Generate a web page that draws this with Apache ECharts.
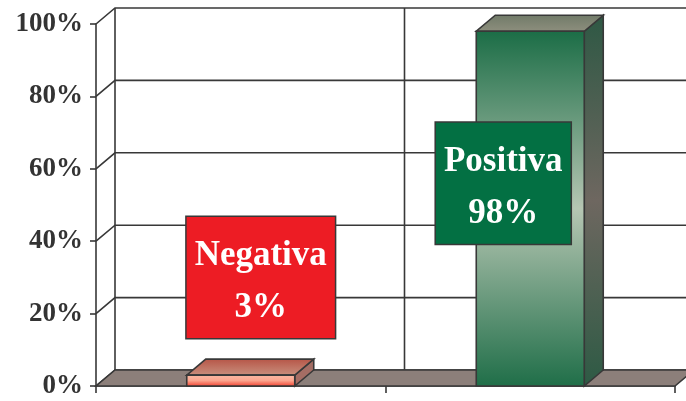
<!DOCTYPE html>
<html>
<head>
<meta charset="utf-8">
<script src="https://cdn.jsdelivr.net/npm/echarts@6/dist/echarts.min.js"></script>
<style>
  html, body { margin: 0; padding: 0; background: #ffffff; }
  #chart { width: 686px; height: 401px; }
</style>
</head>
<body>
<div id="chart"></div>
<script>
// ---- data ----
const categories = ['Negativa', 'Positiva'];
const values = [3, 98];
const yTicks = [0, 20, 40, 60, 80, 100];
const labelTexts = ['Negativa\n3%', 'Positiva\n98%'];

// ---- styling / layout config ----
const DEPTH = { dx: 19, dy: -16 };
const LINE = '#383838';
const FONT = '"Liberation Serif", "Times New Roman", serif';
const BAR_RATIO = 0.373;
const TEXT_SHIFT = 5;
const barStyles = [
  {
    front: ['#f8bca6', '#fca58e', '#f03a2a'],
    top: ['#b65446', '#c9917f'],
    side: ['#a46d64', '#a46d64', '#a46d64']
  },
  {
    front: ['#1b6d46', '#b6c6b3', '#1f6e48'],
    top: ['#707a68', '#8e8f7e'],
    side: ['#2e5844', '#6e6760', '#2d5a44']
  }
];
const labelBoxes = [
  { offsetX: 20, atValue: 30, fill: '#ed1c24' },
  { offsetX: -27, atValue: 56, fill: '#037043' }
];

function vgrad(stops) {
  const n = stops.length;
  return new echarts.graphic.LinearGradient(0, 0, 0, 1,
    stops.map((c, k) => ({ offset: n === 1 ? 0 : k / (n - 1), color: c })));
}

const chart = echarts.init(document.getElementById('chart'), null, { renderer: 'canvas' });

function renderWalls(params, api) {
  const cs = params.coordSys;
  const x0 = cs.x, x1 = cs.x + cs.width;
  const { dx, dy } = DEPTH;
  const children = [];
  const yb = api.coord([0, 0])[1];
  const yt = api.coord([0, 100])[1];
  yTicks.forEach(t => {
    const y = api.coord([0, t])[1];
    children.push({ type: 'polyline', shape: { points: [[x0, y], [x0 + dx, y + dy], [x1 + dx + 30, y + dy]] },
      style: { stroke: LINE, lineWidth: 1.6, fill: null } });
  });
  const bw = api.size([1, 0])[0];
  const xs = [x0];
  for (let i = 0; i < categories.length; i++) xs.push(api.coord([i, 0])[0] + bw / 2);
  xs.forEach(x => {
    children.push({ type: 'line', shape: { x1: x + dx, y1: yb + dy, x2: x + dx, y2: yt + dy },
      style: { stroke: LINE, lineWidth: 1.6 } });
  });
  children.push({ type: 'polygon', shape: { points: [[x0, yb], [x1, yb], [x1 + dx, yb + dy], [x0 + dx, yb + dy]] },
    style: { fill: '#8c7f7a', stroke: LINE, lineWidth: 1.6 } });
  return { type: 'group', children };
}

function renderBars(params, api) {
  const i = api.value(0), v = api.value(1);
  const { dx, dy } = DEPTH;
  const base = api.coord([i, 0]);
  const top = api.coord([i, v]);
  const bw = api.size([1, 0])[0] * BAR_RATIO;
  const xl = base[0] - bw / 2, xr = base[0] + bw / 2;
  const yt = top[1], yb = base[1];
  const s = barStyles[i];
  return {
    type: 'group',
    children: [
      { type: 'polygon', shape: { points: [[xr, yt], [xr + dx, yt + dy], [xr + dx, yb + dy], [xr, yb]] },
        style: { fill: vgrad(s.side), stroke: LINE, lineWidth: 1.6 } },
      { type: 'polygon', shape: { points: [[xl, yt], [xr, yt], [xr + dx, yt + dy], [xl + dx, yt + dy]] },
        style: { fill: new echarts.graphic.LinearGradient(0, 1, 0, 0, [{ offset: 0, color: s.top[1] }, { offset: 1, color: s.top[0] }]), stroke: LINE, lineWidth: 1.6 } },
      { type: 'rect', shape: { x: xl, y: yt, width: bw, height: yb - yt },
        style: { fill: vgrad(s.front), stroke: LINE, lineWidth: 1.6 } }
    ]
  };
}

function renderLabels(params, api) {
  const i = api.value(0);
  const cfg = labelBoxes[i];
  const c = api.coord([i, cfg.atValue]);
  const common = {
    text: labelTexts[i],
    font: 'bold 35px ' + FONT,
    align: 'center',
    verticalAlign: 'middle',
    lineHeight: 52
  };
  return {
    type: 'group',
    children: [
      { type: 'text', x: c[0] + cfg.offsetX, y: c[1],
        style: Object.assign({}, common, {
          fill: 'rgba(0,0,0,0)', backgroundColor: cfg.fill,
          borderColor: LINE, borderWidth: 1.5, padding: [8, 8, 9, 8]
        }) },
      { type: 'text', x: c[0] + cfg.offsetX, y: c[1] + TEXT_SHIFT,
        style: Object.assign({}, common, { fill: '#ffffff' }) }
    ]
  };
}

const option = {
  animation: false,
  backgroundColor: '#ffffff',
  grid: { left: 96, right: 11, top: 24, bottom: 15, containLabel: false },
  xAxis: {
    type: 'category',
    data: categories,
    boundaryGap: true,
    axisLine: { show: true, lineStyle: { color: LINE, width: 1.6 } },
    axisTick: { show: true, length: 7, lineStyle: { color: LINE, width: 1.6 } },
    axisLabel: { show: false },
    splitLine: { show: false }
  },
  yAxis: {
    type: 'value',
    min: 0, max: 100, interval: 20,
    axisLine: { show: true, lineStyle: { color: LINE, width: 1.6 } },
    axisTick: { show: true, length: 6, lineStyle: { color: LINE, width: 1.6 } },
    axisLabel: {
      formatter: '{value}%', margin: 13,
      fontFamily: FONT, fontWeight: 'bold', fontSize: 27, color: '#333333'
    },
    splitLine: { show: false }
  },
  series: [
    { type: 'custom', name: 'walls', data: [[0, 0]], renderItem: renderWalls, clip: false, silent: true, z: 1 },
    { type: 'custom', name: 'bars', data: values.map((v, i) => [i, v]), renderItem: renderBars, clip: false, z: 3 },
    { type: 'custom', name: 'labels', data: values.map((v, i) => [i, v]), renderItem: renderLabels, clip: false, z: 5 }
  ]
};
chart.setOption(option);
</script>
</body>
</html>
